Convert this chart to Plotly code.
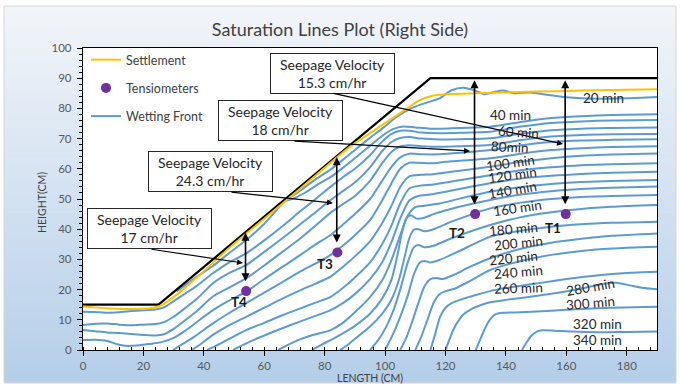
import plotly.graph_objects as go

# ---------------- data (cm) ----------------
embankment_x = [0, 25, 115, 190]
embankment_y = [15, 15, 90, 90]

settlement_x = [0, 25, 50, 70, 88, 96, 102, 107, 111, 116, 122, 130, 140, 150, 160, 170, 180, 190]
settlement_y = [14.4, 14.4, 35.2, 51.8, 67.0, 72.5, 76.5, 79.8, 82.5, 84.3, 84.8, 85.0, 85.3, 85.6, 85.8, 86.0, 86.2, 86.3]

tensiometer_names = ["T1", "T2", "T3", "T4"]
tensiometer_x = [159.8, 129.8, 84.2, 54.0]
tensiometer_y = [45.0, 45.0, 32.3, 19.5]

seepage_velocity = [15.3, 18, 24.3, 17]  # cm/hr, for T1..T4

# wetting front lines, ordered from the shallowest (top) to the deepest
front01_x = [31, 37, 43, 48, 54, 60, 67, 72, 77, 82, 88, 94, 99, 104, 109, 114, 118, 122, 126, 130, 133, 136, 139, 143, 148, 153, 160, 170, 180, 190]
front01_y = [19.4, 23.8, 27.8, 31.8, 36.4, 41.8, 49.4, 52.8, 56.5, 59.8, 64.6, 69.5, 73.3, 77.3, 80.2, 82.0, 83.3, 86.0, 86.8, 85.8, 84.7, 85.4, 85.9, 85.0, 85.3, 84.6, 83.7, 83.2, 83.4, 83.8]
front02_x = [67, 70, 74, 78, 82, 86, 90, 94, 97, 100, 103, 106, 110, 115, 122, 128, 134.8, 145, 155, 165, 175, 190]
front02_y = [49.3, 50.3, 52.4, 55.0, 57.3, 60.3, 63.5, 66.8, 69.3, 71.6, 73.3, 74.0, 73.7, 73.3, 73.4, 73.6, 73.9, 75.5, 76.8, 77.4, 77.8, 78.1]
front03_x = [0, 4, 8, 12, 16, 20, 24, 27, 30, 34, 38, 43, 48, 54, 60, 66, 72, 77, 82, 86, 90, 95, 99, 102, 105, 108, 112, 118, 125, 134.8, 145, 155, 165, 175, 190]
front03_y = [12.7, 12.6, 12.3, 12.5, 12.9, 13.2, 13.4, 14.2, 16.2, 18.8, 21.5, 25.4, 28.8, 32.0, 36.3, 41.0, 46.0, 50.0, 54.1, 57.2, 60.0, 64.5, 69.0, 71.5, 72.6, 72.6, 72.0, 71.8, 71.9, 72.3, 74.0, 75.2, 75.7, 76.0, 76.2]
front04_x = [0, 4, 8, 12, 16, 20, 24, 27, 30, 34, 38, 43, 48, 54, 60, 66, 72, 77, 82, 86, 90, 95, 99, 102, 105, 108, 112, 118, 125, 134.8, 145, 155, 165, 175, 190]
front04_y = [8.3, 8.7, 8.8, 8.4, 8.2, 8.4, 8.6, 9.3, 11.0, 14.0, 17.2, 22.1, 25.3, 28.1, 32.5, 37.0, 41.7, 45.6, 49.7, 52.6, 55.5, 60.5, 65.8, 68.8, 70.2, 70.5, 70.0, 69.7, 69.8, 70.1, 71.6, 72.8, 73.3, 73.5, 73.7]
front05_x = [0, 4, 8, 12, 16, 20, 24, 27, 30, 34, 38, 43, 48, 54, 60, 66, 72, 77, 82, 86, 90, 95, 99, 102, 105, 108, 112, 118, 125, 134.8, 145, 155, 165, 175, 190]
front05_y = [6.6, 6.2, 5.8, 5.6, 5.3, 5.0, 4.8, 5.3, 7.0, 10.0, 13.2, 17.7, 20.5, 23.7, 28.0, 32.5, 37.0, 41.2, 45.5, 48.3, 51.0, 56.0, 61.8, 65.5, 67.4, 67.8, 67.5, 67.3, 67.5, 67.9, 69.5, 70.7, 71.2, 71.4, 71.5]
front06_x = [0, 4, 8, 11, 14, 18, 22, 26, 30, 34, 38, 43, 48, 54, 60, 66, 72, 77, 82, 86, 90, 95, 99, 102, 105, 108, 112, 118, 125, 134.8, 145, 155, 165, 175, 190]
front06_y = [3.3, 3.4, 3.0, 2.0, 1.4, 1.5, 2.0, 2.6, 4.0, 6.5, 9.5, 13.2, 16.2, 19.3, 23.5, 27.5, 31.5, 35.0, 38.1, 41.5, 45.0, 50.0, 56.0, 60.5, 63.8, 65.0, 64.8, 64.8, 65.3, 66.2, 67.8, 68.9, 69.4, 69.6, 69.8]
front07_x = [29.8, 33, 37, 43, 48, 54, 60, 66, 72, 78, 82, 86, 90, 95, 99, 102, 105, 108, 111, 115, 120, 127, 134.8, 145, 155, 165, 175, 190]
front07_y = [0, 2.0, 4.5, 8.8, 12.0, 15.5, 19.0, 22.5, 26.0, 29.2, 31.5, 34.5, 38.0, 43.0, 49.5, 55.0, 60.0, 62.0, 62.0, 61.8, 62.3, 62.8, 63.5, 65.0, 66.2, 66.8, 67.2, 67.5]
front08_x = [36, 39, 43, 48, 54, 60, 66, 72, 77, 82, 86, 90, 95, 99, 102, 105, 108, 112, 116, 122, 134.8, 145, 155, 165, 175, 190]
front08_y = [0, 2.0, 5.0, 8.0, 11.0, 14.0, 17.0, 19.8, 22.0, 24.3, 27.5, 31.0, 36.0, 42.0, 47.5, 54.0, 57.5, 58.0, 58.2, 59.0, 60.7, 62.3, 63.5, 64.3, 64.7, 65.1]
front09_x = [41, 43, 48, 54, 60, 66, 72, 77, 82, 86, 90, 95, 99, 102, 105, 108, 112, 116, 122, 134.8, 145, 155, 165, 175, 190]
front09_y = [0, 0.9, 3.5, 6.6, 9.0, 11.5, 13.8, 15.7, 17.6, 20.5, 24.0, 29.0, 35.0, 41.0, 48.5, 53.5, 54.5, 54.8, 55.8, 57.9, 59.5, 60.5, 61.2, 61.5, 61.8]
front10_x = [49.7, 54, 60, 66, 72, 77, 82, 86, 90, 95, 99, 102, 105, 108, 111, 115, 122, 134.8, 145, 155, 165, 175, 190]
front10_y = [0, 2.2, 4.8, 7.2, 9.5, 11.3, 13.2, 15.5, 18.5, 23.5, 29.0, 35.5, 43.5, 49.5, 51.0, 51.5, 52.8, 55.2, 56.8, 57.7, 58.3, 58.7, 59.0]
front11_x = [64.6, 68, 72, 77, 82, 86, 90, 95, 99, 102, 105, 107.5, 110, 113, 118, 125, 134.8, 145, 155, 165, 175, 190]
front11_y = [0, 1.8, 3.6, 5.2, 6.6, 9.0, 12.5, 17.5, 23.0, 29.5, 38.0, 44.5, 47.3, 47.8, 48.5, 50.2, 52.4, 54.0, 55.0, 55.6, 56.0, 56.3]
front12_x = [75.8, 79, 82, 86, 90, 95, 99, 102, 104, 105.5, 107, 108.5, 110.5, 113, 116, 122, 134.8, 145, 155, 165, 175, 190]
front12_y = [0, 1.8, 3.3, 5.5, 8.0, 12.0, 17.0, 23.0, 31.0, 38.5, 43.5, 44.6, 43.5, 43.8, 45.0, 46.8, 49.7, 51.5, 52.6, 53.3, 53.7, 54.1]
front13_x = [85.1, 88, 91, 95, 99, 102, 104.5, 106.5, 108, 109.5, 111, 113, 116, 122, 134.8, 145, 155, 165, 175, 190]
front13_y = [0, 2.0, 4.5, 7.8, 12.0, 16.5, 23.0, 31.0, 37.0, 39.8, 40.0, 39.3, 40.0, 42.5, 46.9, 48.8, 50.0, 50.7, 51.0, 51.3]
front14_x = [95, 97.5, 100, 102.5, 105, 107.5, 109.5, 111, 113, 116, 122, 134.8, 145, 155, 165, 175, 190]
front14_y = [0, 3.0, 7.0, 12.5, 20.0, 29.0, 34.0, 34.8, 34.0, 34.5, 37.0, 41.4, 44.0, 45.6, 46.7, 47.4, 48.0]
front15_x = [100, 102.5, 105, 107.5, 109.5, 111.5, 113, 115, 118, 124, 134.8, 145, 155, 165, 175, 190]
front15_y = [0, 5.0, 11.0, 18.0, 25.0, 29.0, 29.5, 29.0, 29.8, 32.5, 37.5, 39.5, 40.8, 41.6, 42.1, 42.5]
front16_x = [105, 107, 109, 111, 113, 115, 117, 119, 123, 128, 134.8, 145, 155, 165, 175, 190]
front16_y = [0, 4.0, 9.5, 15.5, 21.0, 23.5, 23.8, 23.5, 25.0, 27.5, 30.4, 33.5, 35.5, 36.8, 37.8, 38.6]
front17_x = [110, 112, 114, 116, 118, 120, 123, 128, 134.8, 145, 155, 165, 175, 190]
front17_y = [0, 4.5, 10.0, 15.5, 18.5, 19.5, 20.3, 22.8, 26.5, 29.5, 31.5, 32.8, 33.6, 34.2]
front18_x = [115, 116.5, 118.2, 120, 122, 126, 130, 134.8, 140, 150, 160, 170, 180, 190]
front18_y = [0, 5.0, 11.0, 14.0, 15.5, 17.0, 18.2, 19.5, 20.5, 22.0, 23.5, 24.7, 25.5, 25.9]
front19_x = [120, 121.3, 122.6, 124.5, 126, 129, 132, 134.8, 140, 147, 155, 162, 168, 173, 177, 181, 185, 190]
front19_y = [0, 3.5, 6.8, 10.0, 11.8, 13.8, 15.0, 15.8, 16.6, 17.5, 18.6, 19.8, 21.0, 22.0, 22.2, 21.4, 20.6, 20.1]
front20_x = [130, 131.5, 133, 134.8, 136.5, 139, 145, 155, 165, 175, 190]
front20_y = [0, 3.5, 7.0, 10.2, 11.8, 12.3, 12.5, 13.0, 13.6, 14.0, 14.3]
front21_x = [145.3, 146.8, 148.5, 150.2, 152, 156, 162, 170, 180, 190]
front21_y = [0, 2.5, 4.8, 6.1, 6.5, 6.4, 6.1, 5.9, 6.0, 6.1]

fronts = [
    (front01_x, front01_y), (front02_x, front02_y), (front03_x, front03_y),
    (front04_x, front04_y), (front05_x, front05_y), (front06_x, front06_y),
    (front07_x, front07_y), (front08_x, front08_y), (front09_x, front09_y),
    (front10_x, front10_y), (front11_x, front11_y), (front12_x, front12_y),
    (front13_x, front13_y), (front14_x, front14_y), (front15_x, front15_y),
    (front16_x, front16_y), (front17_x, front17_y), (front18_x, front18_y),
    (front19_x, front19_y), (front20_x, front20_y), (front21_x, front21_y),
]

# elapsed-time labels (min)
label_times = [20, 40, 60, 80, 100, 120, 140, 160, 180, 200, 220, 240, 260, 280, 300, 320, 340]

# ---------------- page geometry (px) ----------------
W, H = 680, 387
PL, PR, PT, PB = 83, 657, 48, 350


def pxx(px):
    return (px - PL) / (PR - PL)


def pyy(py):
    return (PB - py) / (PB - PT)


def dx(px):
    return (px - PL) / (PR - PL) * 190


def dy(py):
    return (PB - py) / (PB - PT) * 100


FONT = "Lato"
BLUE = "#5B9BD5"
GOLD = "#FFC000"
PURPLE = "#7030A0"
INK = "#262626"

fig = go.Figure()

for i, (xs, ys) in enumerate(fronts):
    fig.add_trace(go.Scatter(
        x=xs, y=ys, mode="lines", name="Wetting Front",
        line=dict(color=BLUE, width=2, shape="spline", smoothing=0.7),
        legendgroup="wf", showlegend=(i == 0), legendrank=3, hoverinfo="skip"))

fig.add_trace(go.Scatter(x=embankment_x, y=embankment_y, mode="lines",
                         line=dict(color="black", width=2.2), showlegend=False,
                         hoverinfo="skip"))

fig.add_trace(go.Scatter(x=settlement_x, y=settlement_y, mode="lines", name="Settlement",
                         line=dict(color=GOLD, width=2, shape="spline", smoothing=0.6),
                         legendgroup="st", legendrank=1))

fig.add_trace(go.Scatter(x=tensiometer_x, y=tensiometer_y, mode="markers", name="Tensiometers",
                         marker=dict(color=PURPLE, size=10), legendgroup="tm", legendrank=2))

# ---------------- background ----------------
shapes = []
top, bottom = 6, 383
n = 64
c0 = (242, 245, 249)
c1 = (181, 206, 233)
for i in range(n):
    y0 = top + (bottom - top) * i / n
    y1 = top + (bottom - top) * (i + 1) / n + 0.7
    t = (i + 0.5) / n
    col = tuple(round(c0[k] + (c1[k] - c0[k]) * t) for k in range(3))
    shapes.append(dict(type="rect", xref="paper", yref="paper", x0=pxx(4), x1=pxx(676),
                       y0=pyy(min(y1, bottom)), y1=pyy(y0),
                       fillcolor="rgb(%d,%d,%d)" % col, line_width=0, layer="below"))
shapes.append(dict(type="rect", xref="paper", yref="paper", x0=pxx(4), x1=pxx(676),
                   y0=pyy(bottom), y1=pyy(top), fillcolor="rgba(0,0,0,0)",
                   line=dict(color="#d4d4d4", width=1), layer="below"))
shapes.append(dict(type="rect", xref="paper", yref="paper", x0=0, x1=1, y0=0, y1=1,
                   fillcolor="white", line_width=0, layer="below"))

# ---------------- annotations ----------------
ann = []

# seepage velocity call-outs: box centre, arrow tail, arrow head (px)
boxes = [
    ((332.5, 73), (332, 93), (563, 144)),
    ((280.5, 120.5), (293, 141), (470, 151)),
    ((210.5, 171.5), (230, 192), (333, 203)),
    ((149, 228.5), (150, 249), (243, 263)),
]
for v, (c, tail, head) in zip(seepage_velocity, boxes):
    ann.append(dict(x=dx(c[0]), y=dy(c[1]), xref="x", yref="y", showarrow=False,
                    text="Seepage Velocity<br>%s cm/hr" % ("%g" % v),
                    font=dict(family=FONT, size=14, color=INK),
                    bgcolor="white", bordercolor=INK, borderwidth=1, borderpad=1,
                    width=121, height=37, align="center"))
    ann.append(dict(x=dx(head[0]), y=dy(head[1]), ax=dx(tail[0]), ay=dy(tail[1]),
                    xref="x", yref="y", axref="x", ayref="y", text="", showarrow=True,
                    arrowhead=2, arrowsize=1, arrowwidth=1.2, arrowcolor="black", standoff=0))

# double arrows from the surface down to each tensiometer
for tx, ty, top_y in zip(tensiometer_x, tensiometer_y, [89.3, 89.3, 63.8, 38.8]):
    ann.append(dict(x=tx - 0.2, y=top_y, ax=tx - 0.2, ay=ty + 2.8, xref="x", yref="y",
                    axref="x", ayref="y", text="", showarrow=True, arrowhead=2,
                    startarrowhead=2, arrowside="end+start", arrowsize=1, startarrowsize=1,
                    arrowwidth=1.6, arrowcolor="black", standoff=0, startstandoff=0))

for name, pos in zip(tensiometer_names, [(553, 228), (457, 233), (325, 264), (239, 302)]):
    ann.append(dict(x=dx(pos[0]), y=dy(pos[1]), xref="x", yref="y", text="<b>%s</b>" % name,
                    showarrow=False, font=dict(family=FONT, size=13.5, color="#1a1a1a")))

# elapsed-time labels along the fronts (px position, angle)
time_label_pos = [
    (603, 98, 0), (510, 115, 0), (518, 132, 4), (510, 147, 3), (510, 163, -8),
    (512, 175, -8), (512, 190, -10), (517, 208, -8), (513, 229, -5), (518, 243, -6),
    (513, 258, -6), (518, 272, -5), (518, 288, -2), (590, 287, -10), (590, 303, -5),
    (597, 324, 0), (597, 340, 0),
]
for t, (px, py, ang) in zip(label_times, time_label_pos):
    label = "%dmin" % t if t == 80 else "%d min" % t
    ann.append(dict(x=dx(px), y=dy(py), xref="x", yref="y", text=label, showarrow=False,
                    textangle=ang, font=dict(family=FONT, size=13.5, color=INK)))

ann.append(dict(x=0.5, y=0, xref="paper", yref="paper", yanchor="top", yshift=-20,
                text="LENGTH (CM)", showarrow=False,
                font=dict(family=FONT, size=10.5, color="#404040")))
ann.append(dict(x=0, y=0.5, xref="paper", yref="paper", xanchor="center", yanchor="middle",
                xshift=-41, yshift=-4, textangle=-90, text="HEIGHT(CM)", showarrow=False,
                font=dict(family=FONT, size=10.5, color="#404040")))

fig.update_layout(
    width=W, height=H,
    margin=dict(l=PL, r=W - PR, t=PT, b=H - PB, pad=0),
    paper_bgcolor="white", plot_bgcolor="white",
    title=dict(text="Saturation Lines Plot (Right Side)", x=0.5, xanchor="center",
               y=1 - 30 / H, yanchor="middle",
               font=dict(family=FONT, size=18, color="#404040")),
    shapes=shapes, annotations=ann,
    legend=dict(x=pxx(86), y=pyy(45), xanchor="left", yanchor="top",
                bgcolor="rgba(0,0,0,0)", traceorder="grouped", tracegroupgap=9,
                font=dict(family=FONT, size=12.5, color="#404040")),
    showlegend=True,
)

tickfont = dict(family=FONT, size=11.5, color="#595959")
fig.update_xaxes(range=[0, 190], tick0=0, dtick=20, ticks="outside", ticklen=5,
                 tickcolor="black", tickwidth=1, showline=True, linecolor="black",
                 linewidth=1.3, mirror=True, showgrid=False, zeroline=False,
                 tickfont=tickfont,
                 minor=dict(dtick=4, ticks="inside", ticklen=3, tickcolor="black", showgrid=False))
fig.update_yaxes(range=[0, 100], tick0=0, dtick=10, ticks="outside", ticklen=5,
                 tickcolor="black", tickwidth=1, showline=True, linecolor="black",
                 linewidth=1.3, mirror=True, showgrid=False, zeroline=False,
                 tickfont=tickfont, ticklabelstandoff=3,
                 minor=dict(dtick=2, ticks="outside", ticklen=3, tickcolor="black", showgrid=False))

fig.write_html("out.html")
